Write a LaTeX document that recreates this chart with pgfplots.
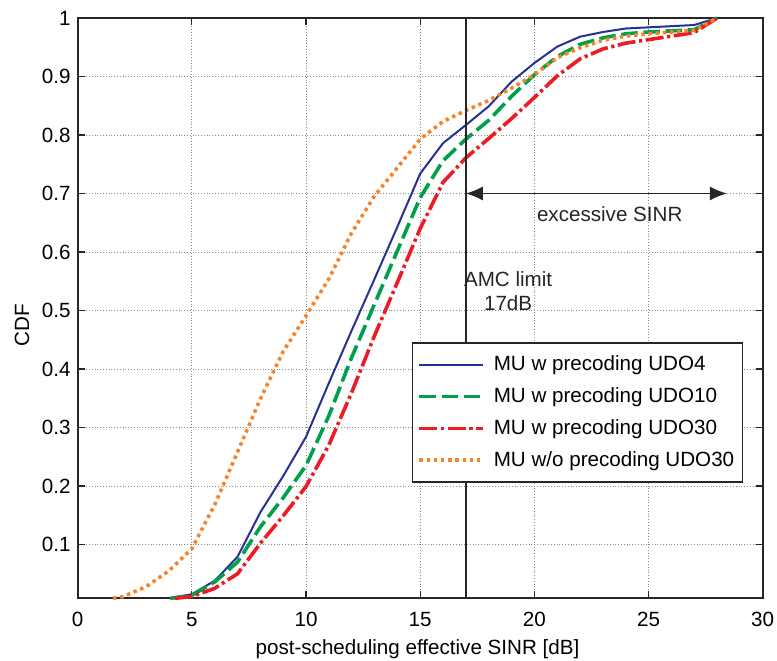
\documentclass[border=0pt]{standalone}
\usepackage{fontspec}
\setmainfont{Liberation Sans}
\usepackage{pgfplots}
\pgfplotsset{compat=1.18}
\usetikzlibrary{arrows.meta}
\definecolor{cblue}{RGB}{40,48,148}
\definecolor{cgreen}{RGB}{0,160,75}
\definecolor{cred}{RGB}{237,28,36}
\definecolor{corange}{RGB}{247,130,40}
\newcommand{\fs}{\fontsize{10.3}{12.4}\selectfont}
\begin{document}
\begin{tikzpicture}
\begin{axis}[
  scale only axis, width=342.5pt, height=290.15pt,
  xmin=0, xmax=30, ymin=0.008, ymax=1,
  xtick={0,5,10,15,20,25,30},
  ytick={0.1,0.2,0.3,0.4,0.5,0.6,0.7,0.8,0.9,1},
  yticklabels={0.1,0.2,0.3,0.4,0.5,0.6,0.7,0.8,0.9,1},
  /pgf/number format/assume math mode=true,
  tick label style={font=\fs},
  xticklabel style={yshift=-3.5pt},
  label style={font=\fs},
  grid=major,
  major grid style={densely dotted, black!45, line width=0.4pt},
  tick align=inside, tick pos=both, major tick length=3.5pt,
  axis line style={line width=1pt, black!85},
  every tick/.style={black!85, line width=0.6pt},
  xlabel={post-scheduling effective SINR [dB]},
  ylabel={CDF},
  xlabel style={at={(axis description cs:0.496,0)}, anchor=center, yshift=-25.5pt},
  ylabel style={at={(axis description cs:-0.0813,0.47)}, anchor=center},
  legend style={at={(0.488,0.441)}, anchor=north west, draw=black!85, line width=0.6pt,
    font=\fs, inner xsep=2.5pt, inner ysep=4.6pt, row sep=3.35pt, nodes={inner sep=1.8pt}},
  legend cell align=left,
  legend image code/.code={\draw[#1] (0pt,0pt) -- (32pt,0pt);},
  clip=false,
]
\addplot[cblue, line width=1pt] coordinates {
(4.05,0.008)(5,0.015)(6,0.038)(7,0.079)(8,0.155)(9,0.217)(10,0.284)(11,0.376)(12,0.466)(13,0.554)(14,0.643)(15,0.734)(16,0.786)(17,0.817)(18,0.849)(19,0.891)(20,0.923)(21,0.951)(22,0.968)(23,0.976)(24,0.982)(25,0.984)(26,0.986)(27,0.988)(28,1.0)};
\addlegendentry{\hspace{2.5pt}MU w precoding UDO4}
\addplot[cgreen, line width=1.8pt, dash pattern=on 8.3pt off 2.8pt] coordinates {
(4.05,0.008)(5,0.013)(6,0.036)(7,0.070)(8,0.130)(9,0.180)(10,0.235)(11,0.320)(12,0.420)(13,0.511)(14,0.602)(15,0.693)(16,0.756)(17,0.793)(18,0.825)(19,0.866)(20,0.903)(21,0.934)(22,0.955)(23,0.966)(24,0.973)(25,0.976)(26,0.978)(27,0.980)(28,1.0)};
\addlegendentry{\hspace{2.5pt}MU w precoding UDO10}
\addplot[cred, line width=1.8pt, dash pattern=on 9pt off 1.8pt on 1.6pt off 1.8pt] coordinates {
(4.25,0.008)(5,0.011)(6,0.025)(7,0.050)(8,0.102)(9,0.149)(10,0.199)(11,0.270)(12,0.360)(13,0.457)(14,0.548)(15,0.640)(16,0.719)(17,0.761)(18,0.794)(19,0.828)(20,0.864)(21,0.901)(22,0.930)(23,0.947)(24,0.957)(25,0.963)(26,0.969)(27,0.975)(28,1.0)};
\addlegendentry{\hspace{2.5pt}MU w precoding UDO30}
\addplot[corange, line width=1.8pt, dash pattern=on 1.7pt off 1.9pt] coordinates {
(1.55,0.008)(2,0.011)(3,0.028)(4,0.055)(5,0.093)(6,0.168)(7,0.258)(8,0.349)(9,0.430)(10,0.491)(11,0.554)(12,0.633)(13,0.696)(14,0.744)(15,0.793)(16,0.823)(17,0.842)(18,0.859)(19,0.880)(20,0.903)(21,0.932)(22,0.949)(23,0.962)(24,0.969)(25,0.973)(26,0.976)(27,0.979)(28,1.0)};
\addlegendentry{\hspace{2.5pt}MU w/o precoding UDO30}
\draw[line width=0.8pt, black!85] (axis cs:17,0.008) -- (axis cs:17,1);
\draw[{Latex[length=8.5pt,width=7pt]}-{Latex[length=8.5pt,width=7pt]}, line width=0.6pt, black!85] (axis cs:17,0.7) -- (axis cs:28.43,0.7);
\node[font=\fs, black!85] at (axis cs:23.3,0.665) {excessive SINR};
\node[font=\fs, black!85, align=center, inner sep=0pt] at (axis cs:18.85,0.533) {AMC limit\\17dB};
\end{axis}
\pgfresetboundingbox
\path (current axis.south west) ++(-38.85pt,-30.85pt) coordinate (bl);
\path (current axis.north east) ++(7.15pt,9pt) coordinate (tr);
\path (bl) rectangle (tr);
\end{tikzpicture}
\end{document}
